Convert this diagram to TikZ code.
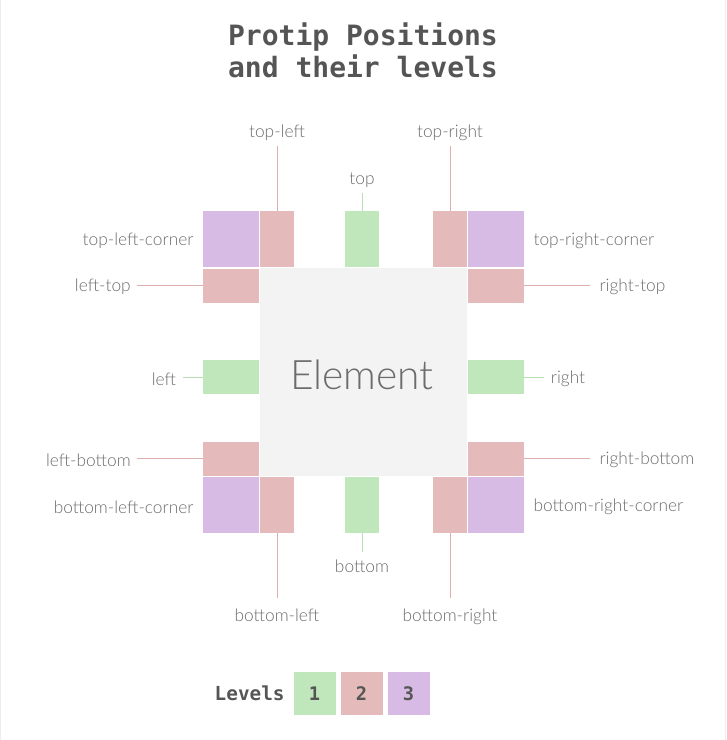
\documentclass[tikz,border=0pt]{standalone}
\usepackage{fontspec}
\setmainfont{Lato}
\newfontfamily\lightfont{Lato}[UprightFont=* Light]
\newfontfamily\codefont{DejaVu Sans Mono}
\usetikzlibrary{positioning}
\definecolor{lvlone}{HTML}{C0E7BC}
\definecolor{lvltwo}{HTML}{E4BBBA}
\definecolor{lvlthree}{HTML}{D7BBE4}
\definecolor{elemgray}{HTML}{F3F3F3}
\definecolor{labelgray}{HTML}{6C6C6C}
\definecolor{titlegray}{HTML}{555555}
\definecolor{lineone}{HTML}{B9DEB4}
\definecolor{linetwo}{HTML}{DDAFAE}

\begin{document}
\begin{tikzpicture}[x=0.75pt,y=-0.75pt,
  box/.style={inner sep=0pt,outer sep=0pt},
  bigbox/.style={box,minimum width=42pt,minimum height=42pt},
  tallbox/.style={box,minimum width=25.5pt,minimum height=42pt},
  widebox/.style={box,minimum width=42pt,minimum height=25.5pt},
  lbl/.style={inner sep=0pt,text=labelgray,font=\lightfont\fontsize{13}{15}\selectfont},
  sidelbl/.style={lbl,yshift=-1.5pt},
  legendbox/.style={box,minimum width=31.5pt,minimum height=32pt,text=titlegray,
    font=\codefont\bfseries\fontsize{14}{16}\selectfont}]
  \useasboundingbox (0,0) rectangle (726,740);
  \draw[black!7] (0.5,0) -- (0.5,740);
  \draw[black!7] (725.5,0) -- (725.5,740);

  % title
  \node[align=center,text=titlegray,font=\codefont\bfseries\fontsize{21}{24}\selectfont]
    (title) at (363,50) {Protip Positions\\and their levels};

  % the element
  \node[box,fill=elemgray,minimum width=155.25pt,minimum height=156pt,
    text=labelgray,font=\lightfont\fontsize{30.5}{34}\selectfont] (elem) at (363.5,372) {};
  \node[lbl,font=\lightfont\fontsize{30.5}{34}\selectfont] (elemLbl) at (362,375) {Element};

  % level 1
  \node[tallbox,fill=lvlone] (top) at (362,239) {};
  \node[tallbox,fill=lvlone] (bottom) at (362,505) {};
  \node[widebox,fill=lvlone] (left) at (231,377) {};
  \node[widebox,fill=lvlone] (right) at (496,377) {};
  % level 2
  \node[tallbox,fill=lvltwo] (topleft) at (277,239) {};
  \node[tallbox,fill=lvltwo] (topright) at (450,239) {};
  \node[tallbox,fill=lvltwo] (bottomleft) at (277,505) {};
  \node[tallbox,fill=lvltwo] (bottomright) at (450,505) {};
  \node[widebox,fill=lvltwo] (lefttop) at (231,286) {};
  \node[widebox,fill=lvltwo] (righttop) at (496,286) {};
  \node[widebox,fill=lvltwo] (leftbottom) at (231,459) {};
  \node[widebox,fill=lvltwo] (rightbottom) at (496,459) {};
  % level 3
  \node[bigbox,fill=lvlthree] (tlcorner) at (231,239) {};
  \node[bigbox,fill=lvlthree] (trcorner) at (496,239) {};
  \node[bigbox,fill=lvlthree] (blcorner) at (231,505) {};
  \node[bigbox,fill=lvlthree] (brcorner) at (496,505) {};

  % line ends
  \coordinate (topEnd) at (362,193);
  \coordinate (bottomEnd) at (362,552);
  \coordinate (leftEnd) at (183,377);
  \coordinate (rightEnd) at (544,377);
  \coordinate (topleftEnd) at (277,146);
  \coordinate (toprightEnd) at (450,146);
  \coordinate (bottomleftEnd) at (277,598);
  \coordinate (bottomrightEnd) at (450,598);
  \coordinate (lefttopEnd) at (137,285);
  \coordinate (righttopEnd) at (590,285);
  \coordinate (leftbottomEnd) at (137,458);
  \coordinate (rightbottomEnd) at (590,458);

  \draw[lineone] (top.north) -- (topEnd);
  \draw[lineone] (bottom.south) -- (bottomEnd);
  \draw[lineone] (left.west) -- (leftEnd);
  \draw[lineone] (right.east) -- (rightEnd);
  \draw[linetwo] (topleft.north) -- (topleftEnd);
  \draw[linetwo] (topright.north) -- (toprightEnd);
  \draw[linetwo] (bottomleft.south) -- (bottomleftEnd);
  \draw[linetwo] (bottomright.south) -- (bottomrightEnd);
  \draw[linetwo] (lefttop.west |- lefttopEnd) -- (lefttopEnd);
  \draw[linetwo] (righttop.east |- righttopEnd) -- (righttopEnd);
  \draw[linetwo] (leftbottom.west |- leftbottomEnd) -- (leftbottomEnd);
  \draw[linetwo] (rightbottom.east |- rightbottomEnd) -- (rightbottomEnd);

  % labels
  \node[lbl,above=4pt of topEnd] (topLbl) {top};
  \node[lbl,below=6pt of bottomEnd] (bottomLbl) {bottom};
  \node[sidelbl,left=5pt of leftEnd] (leftLbl) {left};
  \node[sidelbl,right=5pt of rightEnd] (rightLbl) {right};
  \node[lbl,above=4pt of topleftEnd] (topleftLbl) {top-left};
  \node[lbl,above=4pt of toprightEnd] (toprightLbl) {top-right};
  \node[lbl,below=8pt of bottomleftEnd] (bottomleftLbl) {bottom-left};
  \node[lbl,below=8pt of bottomrightEnd] (bottomrightLbl) {bottom-right};
  \node[sidelbl,left=4.5pt of lefttopEnd] (lefttopLbl) {left-top};
  \node[sidelbl,right=7pt of righttopEnd] (righttopLbl) {right-top};
  \node[sidelbl,left=4.5pt of leftbottomEnd] (leftbottomLbl) {left-bottom};
  \node[sidelbl,right=7pt of rightbottomEnd] (rightbottomLbl) {right-bottom};
  \node[sidelbl,left=7pt of tlcorner] (tlcornerLbl) {top-left-corner};
  \node[sidelbl,right=7pt of trcorner] (trcornerLbl) {top-right-corner};
  \node[sidelbl,left=7pt of blcorner] (blcornerLbl) {bottom-left-corner};
  \node[sidelbl,right=7pt of brcorner] (brcornerLbl) {bottom-right-corner};

  % legend
  \node[legendbox,fill=lvlone] (lvlOne) at (314.5,693.5) {1};
  \node[legendbox,fill=lvltwo,right=3.75pt of lvlOne] (lvlTwo) {2};
  \node[legendbox,fill=lvlthree,right=3.75pt of lvlTwo] (lvlThree) {3};
  \node[inner sep=0pt,left=6.5pt of lvlOne,text=titlegray,
    font=\codefont\bfseries\fontsize{14.5}{16}\selectfont] (levels) {Levels};
\end{tikzpicture}
\end{document}
